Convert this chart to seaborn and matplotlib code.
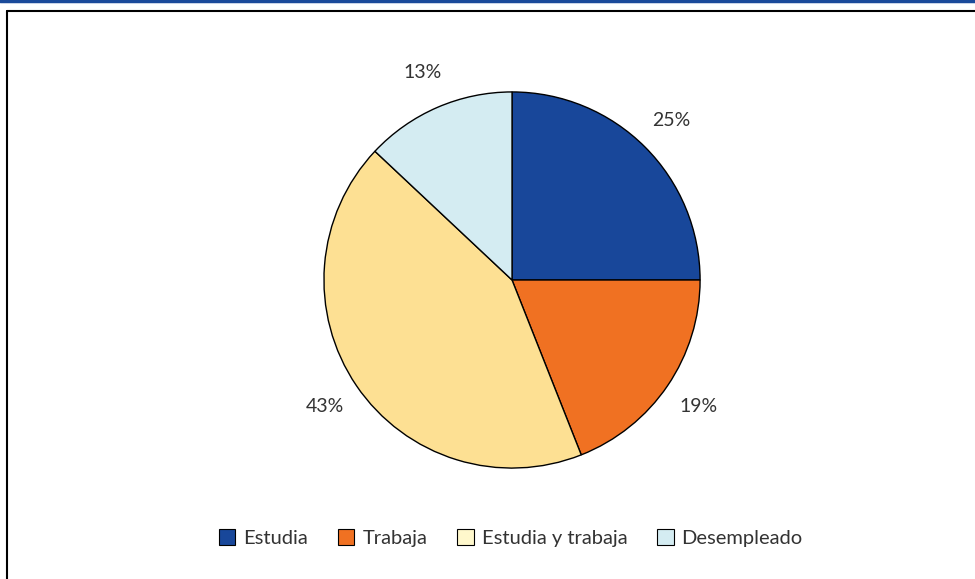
import matplotlib
matplotlib.use("Agg")
import matplotlib.pyplot as plt
import seaborn as sns
from matplotlib.patches import Patch
from matplotlib.lines import Line2D

# data
categories = ['Estudia', 'Trabaja', 'Estudia y trabaja', 'Desempleado']
shares = [25, 19, 43, 13]
slice_colors = ['#18479A', '#F07122', '#FDE093', '#D4ECF2']
legend_colors = ['#18479A', '#F07122', '#FFF8CC', '#D4ECF2']

sns.set_style("white")
plt.rcParams['font.family'] = ['Lato', 'DejaVu Sans']

fig = plt.figure(figsize=(9.75, 5.79), dpi=100)
ax = fig.add_axes([0.2744, 0.0941, 0.5015, 0.8446])

wedges, texts = ax.pie(shares, colors=slice_colors, startangle=90, counterclock=False,
                       labels=[f'{s}%' for s in shares], labeldistance=1.2,
                       wedgeprops=dict(edgecolor='black', linewidth=1))
for t in texts:
    t.set_fontsize(14)
    t.set_color('#333333')
    t.set_ha('center')
    t.set_va('center')
ax.set_xlim(-1.3, 1.3)
ax.set_ylim(-1.3, 1.3)
ax.set_aspect('equal')
ax.axis('off')

handles = [Patch(facecolor=c, edgecolor='black', linewidth=0.8) for c in legend_colors]
fig.legend(handles, categories, loc='center', bbox_to_anchor=(0.524, 0.0708), ncol=4,
           frameon=False, fontsize=14.5, handlelength=0.8, handleheight=0.8,
           handletextpad=0.4, columnspacing=1.5, labelcolor='#333333')

# top blue rule and frame
fig.add_artist(Line2D([0, 1], [0.998, 0.998], color='#1A4A9A', linewidth=2.5))
fig.add_artist(Line2D([0.0072, 0.0072], [0, 0.981], color='black', linewidth=1.5))
fig.add_artist(Line2D([0.0072, 1], [0.981, 0.981], color='black', linewidth=1.5))

fig.savefig('out.png', dpi=100)
